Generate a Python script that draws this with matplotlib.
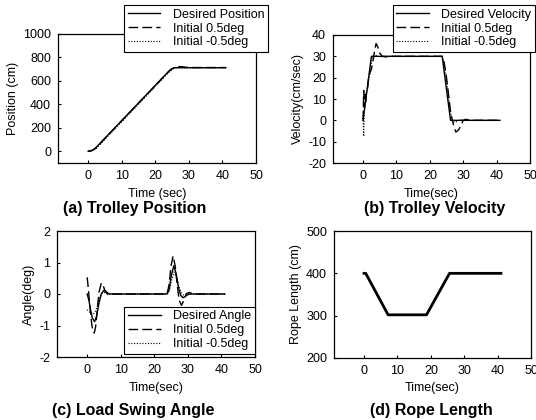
import matplotlib
matplotlib.use("Agg")
import matplotlib.pyplot as plt

plt.rcParams['font.family'] = ['Liberation Sans', 'DejaVu Sans']
plt.rcParams['axes.unicode_minus'] = False

# (a) trolley position
t_pos_des = [0, 0.5, 1, 1.5, 2, 2.5, 24, 24.5, 25, 25.5, 26, 41]
pos_des = [0, 1.5, 6, 13.5, 24, 37.5, 682.5, 695.6, 705, 710.6, 712.5, 712.5]
t_pos_p = [0, 0.5, 1, 1.5, 2, 2.5, 3, 4, 5, 24, 25, 26, 27, 28, 29, 30, 41]
pos_p = [0, 3, 7, 13, 21, 32, 46, 79, 110, 680, 703, 716, 722, 721, 717, 714, 714]
pos_m = [0, 0, 3, 9, 17, 28, 42, 72, 102, 672, 699, 710, 713, 712, 712, 712, 712]

# (b) trolley velocity
t_vel_des = [0, 2.5, 23.7, 26.2, 41]
vel_des = [0, 30, 30, 0, 0]
t_vel_p = [0, 0.2, 0.4, 0.6, 0.8, 1.0, 1.3, 1.6, 2.0, 2.5, 3.0, 3.5, 3.9, 4.4, 5.0,
           5.8, 6.8, 8, 23.7, 24.3, 25, 25.6, 26.2, 26.6, 27.2, 27.8, 28.6, 29.3,
           30.0, 30.8, 32, 41]
vel_p = [0, 14, 6, 12, 8, 13, 14, 19, 22, 24, 28, 33, 36, 34.5, 31.5, 30, 29.7, 30,
         30, 27, 20, 12, 4, 1, -3, -5.5, -4.5, -2.5, 0, 0.5, 0, 0]
t_vel_m = [0, 0.2, 0.4, 0.7, 1.0, 1.4, 2.0, 2.6, 3.2, 4.0, 5.0, 6, 23.7, 24.4, 25.2,
           26.0, 26.6, 27.3, 28.2, 29.2, 30.5, 41]
vel_m = [0, -7.5, 4, 10, 12, 16, 22, 28, 30.5, 30.3, 29.8, 30, 30, 26, 17, 6, 0.5,
         -1, -0.5, 0.3, 0, 0]

# (c) load swing angle
t_ang_des = [0, 0.5, 1, 1.5, 2.2, 2.8, 3.5, 4.2, 5.0, 5.6, 6.5, 23.8, 24.4, 25.1,
             25.8, 26.5, 27.2, 27.9, 28.6, 29.5, 30.5, 41]
ang_des = [0, -0.2, -0.5, -0.75, -0.88, -0.7, -0.3, 0.0, 0.12, 0.08, 0, 0, 0.15, 0.6,
           0.9, 0.65, 0.2, -0.05, -0.12, -0.05, 0, 0]
t_ang_p = [0, 0.4, 0.9, 1.4, 1.8, 2.1, 2.5, 3.0, 3.5, 4.2, 4.8, 5.4, 6.2, 7, 23.8,
           24.4, 25.0, 25.6, 26.2, 26.8, 27.4, 28.1, 28.8, 29.6, 30.5, 31.5, 41]
ang_p = [0.53, 0.1, -0.5, -1.0, -1.2, -1.24, -1.05, -0.5, 0.05, 0.35, 0.25, 0.08,
         -0.02, 0, 0, 0.3, 0.9, 1.21, 0.9, 0.3, -0.2, -0.36, -0.2, 0.02, 0.05, 0, 0]
t_ang_m = [0, 0.5, 1.0, 1.5, 2.2, 2.8, 3.5, 4.2, 5.0, 6.0, 7, 23.8, 24.5, 25.2, 25.9,
           26.6, 27.3, 28.0, 28.8, 29.8, 31, 41]
ang_m = [-0.5, -0.55, -0.6, -0.65, -0.6, -0.45, -0.2, 0.02, 0.05, 0.01, 0, 0, 0.1,
         0.45, 0.7, 0.55, 0.25, 0.05, -0.05, 0, 0, 0]

# (d) rope length
t_rope = [0, 0.5, 7.2, 18.7, 25.6, 41]
rope = [400, 400, 302, 302, 400, 400]

labels_a = ['Desired Position', 'Initial 0.5deg', 'Initial -0.5deg']
labels_b = ['Desired Velocity', 'Initial 0.5deg', 'Initial -0.5deg']
labels_c = ['Desired Angle', 'Initial 0.5deg', 'Initial -0.5deg']

fig = plt.figure(figsize=(5.36, 4.2), dpi=100)
W, H = 536, 420


def make_ax(l, r, t, b):
    return fig.add_axes([l / W, 1 - b / H, (r - l) / W, (b - t) / H])


def style(ax, ylim, yticks, ylabel, xlabel):
    ax.set_xlim(-9, 50)
    ax.set_ylim(*ylim)
    ax.set_xticks([0, 10, 20, 30, 40, 50])
    ax.set_yticks(yticks)
    ax.tick_params(labelsize=9, length=2, width=0.8, direction='in', pad=5)
    ax.set_ylabel(ylabel, fontsize=9, labelpad=3)
    ax.set_xlabel(xlabel, fontsize=9, labelpad=4)
    for s in ax.spines.values():
        s.set_linewidth(0.9)


def legend(ax, labels, loc, anchor):
    leg = ax.legend(labels, loc=loc, bbox_to_anchor=anchor,
                    bbox_transform=fig.transFigure, fontsize=9,
                    fancybox=False, edgecolor='black', framealpha=1,
                    borderpad=0.3, labelspacing=0.15, handlelength=2.6,
                    handletextpad=1.0, borderaxespad=0)
    leg.get_frame().set_linewidth(0.8)
    leg.set_zorder(10)


dash = (0, (7, 3))
dot = (0, (1, 1.5))

ax = make_ax(58, 256, 34, 163)
ax.plot(t_pos_des, pos_des, color='black', lw=1.0)
ax.plot(t_pos_p, pos_p, color='black', lw=1.0, linestyle=dash)
ax.plot(t_pos_p, pos_m, color='black', lw=0.8, linestyle=dot)
style(ax, (-100, 1000), [0, 200, 400, 600, 800, 1000], 'Position (cm)', 'Time (sec)')
legend(ax, labels_a, 'upper right', (268 / W, 1 - 5 / H))

ax = make_ax(333, 530, 35, 163)
ax.plot(t_vel_des, vel_des, color='black', lw=1.0)
ax.plot(t_vel_p, vel_p, color='black', lw=1.0, linestyle=dash)
ax.plot(t_vel_m, vel_m, color='black', lw=0.8, linestyle=dot)
style(ax, (-20, 40), [-20, -10, 0, 10, 20, 30, 40], 'Velocity(cm/sec)', 'Time(sec)')
legend(ax, labels_b, 'upper right', (535 / W, 1 - 5 / H))

ax = make_ax(57, 255, 231, 357)
ax.plot(t_ang_des, ang_des, color='black', lw=1.0)
ax.plot(t_ang_p, ang_p, color='black', lw=1.0, linestyle=dash)
ax.plot(t_ang_m, ang_m, color='black', lw=0.8, linestyle=dot)
style(ax, (-2, 2), [-2, -1, 0, 1, 2], 'Angle(deg)', 'Time(sec)')
legend(ax, labels_c, 'lower right', (255 / W, 1 - 354 / H))

ax = make_ax(334, 531, 231, 358)
ax.plot(t_rope, rope, color='black', lw=2.0)
style(ax, (200, 500), [200, 300, 400, 500], 'Rope Length (cm)', 'Time(sec)')

cap = dict(fontsize=11.5, fontweight='bold', ha='center', va='center')
fig.text(135 / W, 1 - 208 / H, '(a) Trolley Position', **cap)
fig.text(435 / W, 1 - 208 / H, '(b) Trolley Velocity', **cap)
fig.text(133 / W, 1 - 410 / H, '(c) Load Swing Angle', **cap)
fig.text(431 / W, 1 - 410 / H, '(d) Rope Length', **cap)

fig.savefig('out.png', dpi=100)
